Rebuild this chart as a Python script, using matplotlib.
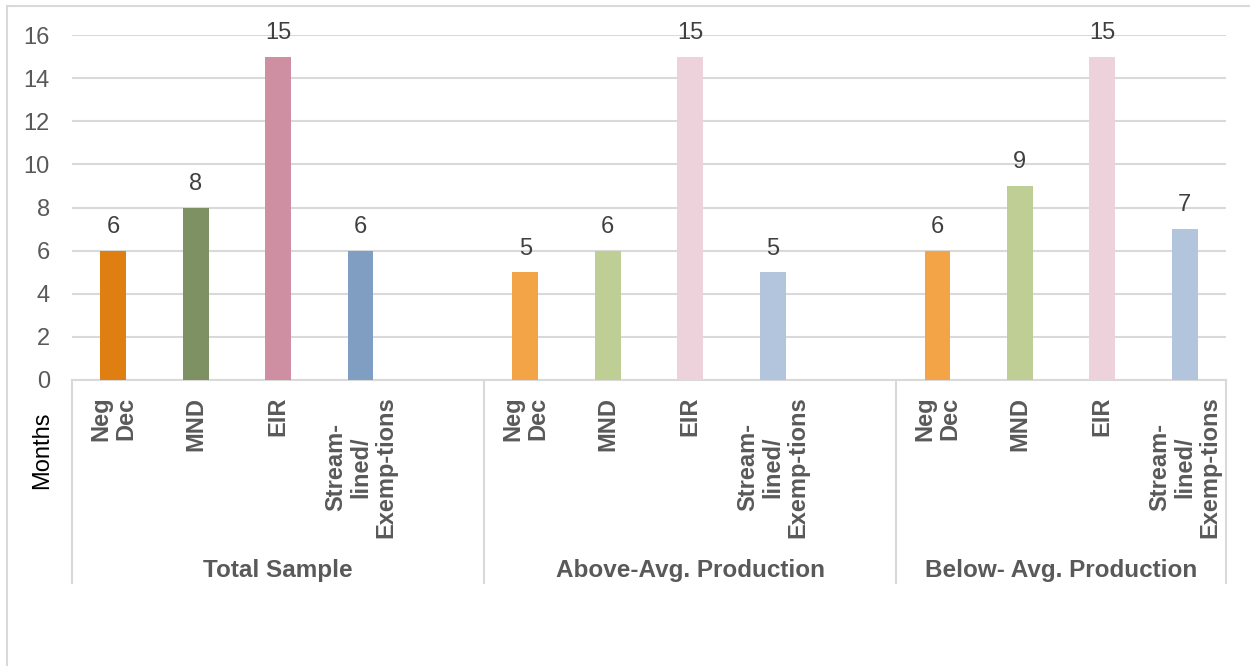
import matplotlib.pyplot as plt
import matplotlib.transforms as mtransforms
from matplotlib.lines import Line2D
import numpy as np

plt.rcParams['font.family'] = ['Liberation Sans', 'DejaVu Sans']

# data
groups = ["Total Sample", "Above-Avg. Production", "Below- Avg. Production"]
categories = ["Neg\nDec", "MND", "EIR", "Stream-\nlined/\nExemp-tions"]
total_sample = [6, 8, 15, 6]
above_avg = [5, 6, 15, 5]
below_avg = [6, 9, 15, 7]
group_slots = [5, 5, 4]  # first two groups carry an empty category slot
yticks = [0, 2, 4, 6, 8, 10, 12, 14, 16]

values = [total_sample, above_avg, below_avg]
dark_colors = ['#DF7F12', '#7D9162', '#CF8FA2', '#809EC2']
light_colors = ['#F3A447', '#BFCE95', '#EDD2DC', '#B2C5DC']
group_colors = [dark_colors, light_colors, light_colors]

grid_col = '#D9D9D9'
text_col = '#595959'

fig = plt.figure(figsize=(12.5, 6.66), dpi=100)
ax = fig.add_axes([72 / 1250, 1 - 380 / 666, 1154 / 1250, 345 / 666])

blended = mtransforms.blended_transform_factory(ax.transData, ax.transAxes)

start = 0
separators = [-0.5]
for g, name in enumerate(groups):
    xs = np.arange(start, start + len(categories))
    ax.bar(xs, values[g], width=0.315, color=group_colors[g], zorder=3)
    for x, v in zip(xs, values[g]):
        ax.annotate(str(v), (x, v), xytext=(0, 17), textcoords='offset points',
                    ha='center', va='center', fontsize=17, color='#404040')
    for x, c in zip(xs, categories):
        ax.text(x, -0.048, c, transform=blended, rotation=90, ha='center', va='top',
                multialignment='center', fontsize=17, fontweight='bold', color=text_col,
                linespacing=1.12)
    mid = start + (group_slots[g] - 1) / 2
    ax.text(mid, -0.551, name, transform=blended, ha='center', va='center',
            fontsize=17.5, fontweight='bold', color=text_col)
    start += group_slots[g]
    separators.append(start - 0.5)

for sx in separators:
    ax.add_line(Line2D([sx, sx], [0, -0.588], transform=blended, color=grid_col,
                       lw=1.5, clip_on=False))

ax.set_xlim(-0.5, sum(group_slots) - 0.5)
ax.set_ylim(0, 16)
ax.set_yticks(yticks)
ax.set_xticks([])
ax.yaxis.grid(True, color=grid_col, lw=1.5, zorder=0)
ax.set_axisbelow(True)
for s in ['left', 'right', 'top']:
    ax.spines[s].set_visible(False)
ax.spines['bottom'].set_color(grid_col)
ax.spines['bottom'].set_linewidth(1.5)
ax.tick_params(axis='y', length=0, pad=16, labelsize=17, labelcolor=text_col)

fig.text(42 / 1250, 1 - 450 / 666, "Months", rotation=90, ha='center', va='center',
         fontsize=17, color='black')

# chart frame
fig.add_artist(Line2D([7 / 1250, 1], [1 - 6 / 666, 1 - 6 / 666], transform=fig.transFigure,
                      color=grid_col, lw=1.5))
fig.add_artist(Line2D([7 / 1250, 7 / 1250], [0, 1 - 6 / 666], transform=fig.transFigure,
                      color=grid_col, lw=1.5))

fig.savefig('out.png', dpi=100)
